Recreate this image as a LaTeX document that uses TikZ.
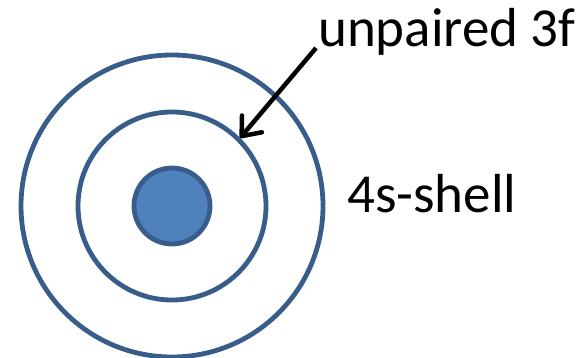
\documentclass[tikz,border=0pt]{standalone}
\usepackage{fontspec}
\setmainfont{Carlito}
\usetikzlibrary{arrows.meta}
\definecolor{shellline}{HTML}{385D8A}
\definecolor{corefill}{HTML}{4F81BD}
\tikzset{
  shell/.style={circle, draw=shellline, line width=4.8pt, inner sep=0pt},
  label/.style={inner sep=0pt, font=\fontsize{55}{62}\selectfont},
  pointer/.style={draw=black, line width=4.5pt,
    -{Straight Barb[length=16pt,width=26pt,line cap=round,line join=round]}}
}
\begin{document}
\begin{tikzpicture}[x=1pt,y=1pt]
  \useasboundingbox (0,0) rectangle (587,357);
  % concentric shells around the core
  \node[shell, minimum size=302pt] (outer) at (172,151) {};
  \node[shell, minimum size=188pt] (mid) at (172,151) {};
  \node[shell, fill=corefill, minimum size=76pt] (core) at (172,151) {};
  % labels
  \node[label, anchor=base west] (unp) at (318,310) {unpaired 3f};
  \node[label, anchor=base west] (shell4s) at (347,145) {4s-shell};
  % arrow to the inner shell
  \coordinate (tail) at (316,309);
  \draw[pointer] (tail) -- (mid.45);
\end{tikzpicture}
\end{document}
